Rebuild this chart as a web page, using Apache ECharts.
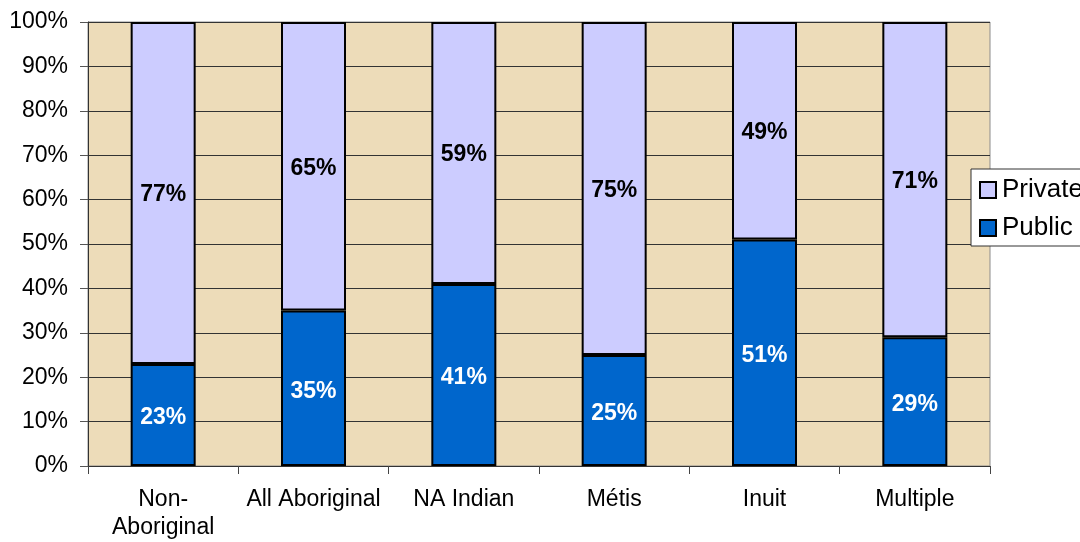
<!DOCTYPE html>
<html>
<head>
<meta charset="utf-8">
<script src="https://cdn.jsdelivr.net/npm/echarts@6/dist/echarts.min.js"></script>
<style>
html,body{margin:0;padding:0;background:#fff;}
#chart{width:1080px;height:542px;}
</style>
</head>
<body>
<div id="chart"></div>
<script>
var categories = ['Non-\nAboriginal', 'All Aboriginal', 'NA Indian', 'Métis', 'Inuit', 'Multiple'];
var publicValues = [23, 35, 41, 25, 51, 29];
var privateValues = [77, 65, 59, 75, 49, 71];
var yTicks = [0, 10, 20, 30, 40, 50, 60, 70, 80, 90, 100];

var font = 'Liberation Sans, Arial, sans-serif';
var chart = echarts.init(document.getElementById('chart'));
chart.setOption({
  animation: false,
  backgroundColor: '#ffffff',
  textStyle: { fontFamily: font },
  grid: {
    left: 88, right: 90, top: 22, bottom: 75,
    show: true, backgroundColor: '#EDDCB9', borderColor: '#8c8c8c', borderWidth: 1
  },
  legend: {
    orient: 'vertical',
    left: 971, top: 169,
    data: ['Private', 'Public'],
    backgroundColor: '#ffffff',
    borderColor: '#333333', borderWidth: 1,
    padding: [8, 8, 5, 8],
    itemWidth: 16, itemHeight: 16, itemGap: 12,
    icon: 'rect',
    textStyle: { fontSize: 26, color: '#000', fontFamily: font, padding: [0, 0, 0, 1] }
  },
  xAxis: {
    type: 'category',
    data: categories,
    axisLine: { lineStyle: { color: '#333', width: 1 } },
    axisTick: { show: true, length: 8, lineStyle: { color: '#444' } },
    axisLabel: { fontSize: 23, color: '#000', margin: 20, lineHeight: 28, fontFamily: font, interval: 0 }
  },
  yAxis: {
    type: 'value',
    min: 0, max: 100, interval: 10,
    axisLine: { show: true, lineStyle: { color: '#333', width: 1 } },
    axisTick: { show: true, length: 8, lineStyle: { color: '#555' } },
    splitLine: { show: true, lineStyle: { color: '#333', width: 1 } },
    axisLabel: {
      fontSize: 23, color: '#000', margin: 20, fontFamily: font,
      formatter: function (v) { return yTicks.indexOf(v) >= 0 ? v + '%' : ''; }
    }
  },
  series: [
    {
      name: 'Public', type: 'bar', stack: 'total', barWidth: 65,
      data: publicValues,
      itemStyle: { color: '#0066CC', borderColor: '#000', borderWidth: 2 },
      label: { show: true, position: 'inside', offset: [0, 3], formatter: '{c}%', color: '#fff', fontSize: 23, fontWeight: 'bold', fontFamily: font }
    },
    {
      name: 'Private', type: 'bar', stack: 'total', barWidth: 65,
      data: privateValues,
      itemStyle: { color: '#CCCCFF', borderColor: '#000', borderWidth: 2 },
      label: { show: true, position: 'inside', offset: [0, 2], formatter: '{c}%', color: '#000', fontSize: 23, fontWeight: 'bold', fontFamily: font }
    }
  ]
});
</script>
</body>
</html>
